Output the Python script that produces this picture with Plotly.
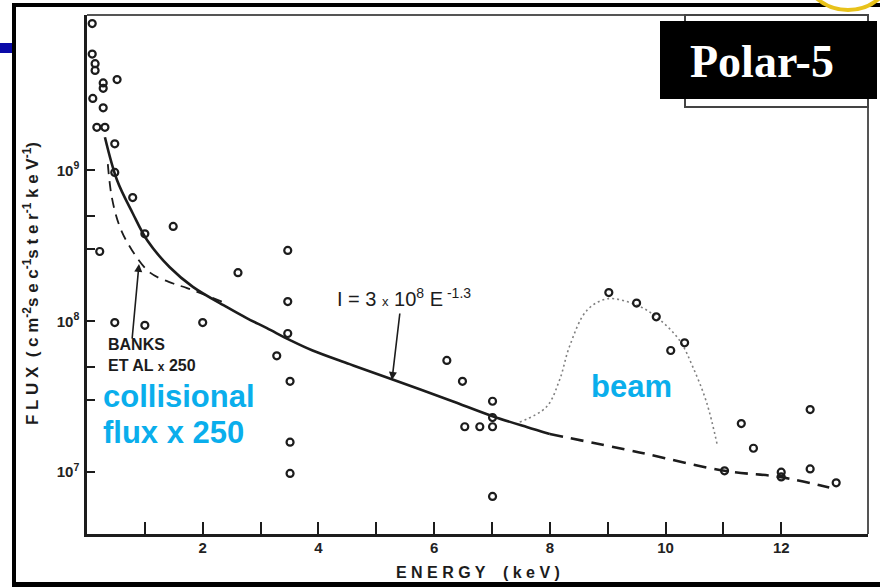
import plotly.graph_objects as go

# ---------------- data ----------------
energy_pts = [0.09, 0.09, 0.14, 0.14, 0.52, 0.28, 0.28, 0.10, 0.28, 0.17,
              0.31, 0.48, 0.48, 0.79, 1.00, 1.49, 0.22, 2.61, 3.47, 3.47,
              3.47, 3.28, 3.51, 3.51, 3.51, 0.48, 1.00, 2.00, 6.22, 6.49,
              6.53, 6.79, 7.01, 7.01, 7.01, 7.01, 9.02, 9.50, 9.84, 10.33,
              10.09, 11.31, 11.52, 11.02, 12.00, 12.00, 12.50, 12.50, 12.95]
flux_pts = [9.4e9, 5.9e9, 5.1e9, 4.6e9, 4.0e9, 3.8e9, 3.5e9, 3.0e9, 2.6e9, 1.93e9,
            1.93e9, 1.5e9, 9.7e8, 6.6e8, 3.8e8, 4.25e8, 2.9e8, 2.1e8, 2.95e8, 1.35e8,
            8.3e7, 5.9e7, 4.0e7, 1.58e7, 9.8e6, 9.8e7, 9.4e7, 9.8e7, 5.5e7, 4.0e7,
            2.0e7, 2.0e7, 2.95e7, 2.3e7, 2.0e7, 6.9e6, 1.55e8, 1.32e8, 1.07e8, 7.2e7,
            6.4e7, 2.1e7, 1.44e7, 1.02e7, 1.0e7, 9.3e6, 2.6e7, 1.05e7, 8.5e6]

fit_E = [0.31, 0.52, 0.79, 1.04, 1.43, 1.83, 2.42, 2.76, 3.11, 3.51, 3.90, 4.54,
         5.27, 6.27, 7.01, 7.60, 8.00]
fit_F = [1.66e9, 8.6e8, 5.2e8, 3.44e8, 2.28e8, 1.69e8, 1.24e8, 1.05e8, 9.0e7, 7.5e7,
         6.4e7, 5.2e7, 4.13e7, 3.0e7, 2.35e7, 1.99e7, 1.79e7]

ext_E = [8.00, 9.55, 11.02, 11.97, 12.83]
ext_F = [1.79e7, 1.35e7, 1.02e7, 9.3e6, 7.9e6]

banks_E = [0.36, 0.43, 0.57, 0.78, 1.09, 1.49, 1.73, 2.35]
banks_F = [1.1e9, 6.6e8, 4.2e8, 2.95e8, 2.1e8, 1.78e8, 1.66e8, 1.34e8]

beam_E = [7.48, 7.94, 8.17, 8.34, 8.64, 9.00, 9.50, 9.84, 10.24, 10.47, 10.71, 10.90]
beam_F = [2.15e7, 2.7e7, 4.1e7, 6.8e7, 1.18e8, 1.41e8, 1.28e8, 1.07e8, 7.5e7, 5.0e7, 2.9e7, 1.48e7]

x_ticks = [2, 4, 6, 8, 10, 12]
x_ticktext = ["2", "4", "6", "8", "10", "12"]
x_minor = [1, 3, 5, 7, 9, 11]
y_ticks = [1e7, 1e8, 1e9]
y_ticktext = ["10<sup>7</sup>", "10<sup>8</sup>", "10<sup>9</sup>"]
y_minor = [3e7, 5e7, 3e8, 5e8]

# ---------------- layout geometry ----------------
W, H = 880, 587
L, R, T, B = 87, 12, 15, 53
PW, PH = W - L - R, H - T - B


def PX(x):
    return (x - L) / PW


def PY(y):
    return (H - B - y) / PH


INK = "#1c1c1c"
CYAN = "#0AAEEC"
SANS = "Liberation Sans, Arial"

fig = go.Figure()

fig.add_trace(go.Scatter(x=banks_E, y=banks_F, mode="lines", line_shape="spline",
                         line=dict(color=INK, width=1.8, dash="10px,7px"), hoverinfo="skip"))
fig.add_trace(go.Scatter(x=beam_E, y=beam_F, mode="lines", line_shape="spline",
                         line=dict(color="#808080", width=1.6, dash="2px,3px"), hoverinfo="skip"))
fig.add_trace(go.Scatter(x=fit_E, y=fit_F, mode="lines", line_shape="spline",
                         line=dict(color=INK, width=2.6), hoverinfo="skip"))
fig.add_trace(go.Scatter(x=ext_E, y=ext_F, mode="lines", line_shape="spline",
                         line=dict(color=INK, width=2.6, dash="13px,8px"), hoverinfo="skip"))
fig.add_trace(go.Scatter(x=energy_pts, y=flux_pts, mode="markers",
                         marker=dict(symbol="circle-open", size=7, color=INK,
                                     line=dict(width=2.2, color=INK))))

tick_font = dict(family=SANS, size=15, color="#222", weight="bold")

fig.update_layout(
    width=W, height=H,
    margin=dict(l=L, r=R, t=T, b=B),
    paper_bgcolor="white", plot_bgcolor="white",
    showlegend=False,
    xaxis=dict(range=[0, 13.5], tickvals=x_ticks, ticktext=x_ticktext,
               ticks="inside", ticklen=12, tickwidth=2, tickcolor=INK,
               minor=dict(tickvals=x_minor, ticks="inside", ticklen=12, tickwidth=2,
                          tickcolor=INK, showgrid=False),
               showline=True, linewidth=2.5, linecolor=INK,
               showgrid=False, zeroline=False, tickfont=tick_font,
               ticklabelstandoff=-2),
    yaxis=dict(type="log", range=[6.59, 10.03], tickvals=y_ticks, ticktext=y_ticktext,
               ticks="inside", ticklen=8, tickwidth=2, tickcolor=INK,
               minor=dict(tickvals=y_minor, ticks="inside", ticklen=8, tickwidth=2,
                          tickcolor=INK, showgrid=False),
               showline=True, linewidth=2.5, linecolor=INK,
               showgrid=False, zeroline=False, tickfont=tick_font,
               ticklabelstandoff=2),
)

shapes = []
# top and right frame lines of the original plot
shapes.append(dict(type="line", xref="paper", yref="paper", x0=0, x1=1, y0=1, y1=1,
                   line=dict(color="#555", width=2)))
shapes.append(dict(type="line", xref="paper", yref="paper", x0=1, x1=1, y0=0, y1=1,
                   line=dict(color="#555", width=2)))
# original legend box (top right)
shapes.append(dict(type="rect", xref="paper", yref="paper", x0=PX(685), x1=PX(868),
                   y0=PY(107), y1=PY(15), line=dict(color="#444", width=2)))
# Polar-5 black label box
shapes.append(dict(type="rect", xref="paper", yref="paper", x0=PX(660), x1=PX(877),
                   y0=PY(99), y1=PY(21), line=dict(width=0), fillcolor="black"))
# outer slide frame
shapes.append(dict(type="line", xref="paper", yref="paper", x0=PX(14), x1=PX(14),
                   y0=PY(587), y1=PY(4), line=dict(color="black", width=4)))
shapes.append(dict(type="line", xref="paper", yref="paper", x0=PX(12), x1=PX(880),
                   y0=PY(5), y1=PY(5), line=dict(color="black", width=4)))
shapes.append(dict(type="line", xref="paper", yref="paper", x0=PX(12), x1=PX(880),
                   y0=PY(584.5), y1=PY(584.5), line=dict(color="black", width=5)))
# blue bar at left edge
shapes.append(dict(type="rect", xref="paper", yref="paper", x0=PX(0), x1=PX(12),
                   y0=PY(53), y1=PY(43), line=dict(width=0), fillcolor="#0a0aa8"))
# logo fragment at top right
shapes.append(dict(type="circle", xref="paper", yref="paper", x0=PX(800), x1=PX(896),
                   y0=PY(10), y1=PY(-86), line=dict(color="#e8c21a", width=4),
                   fillcolor="white"))
fig.update_layout(shapes=shapes)


def label(px, py, text, size, color=INK, family=SANS, xanchor="center", **kw):
    return dict(xref="paper", yref="paper", x=PX(px), y=PY(py), text=text,
                xanchor=xanchor, yanchor="middle", showarrow=False,
                font=dict(family=family, size=size, color=color), **kw)


def arrow(px, py, ax, ay):
    return dict(xref="paper", yref="paper", x=PX(px), y=PY(py), text="",
                showarrow=True, ax=ax, ay=ay, arrowhead=2, arrowsize=1,
                arrowwidth=1.6, arrowcolor=INK)


ann = [
    label(762, 61, "<b>Polar-5</b>", 46, color="white",
          family="Liberation Serif, Times New Roman"),
    label(335, 297, "I = 3 <span style='font-size:13px'>x</span> 10<sup>8</sup> E<sup> -1.3</sup>",
          20, xanchor="left"),
    arrow(392, 380, 8, -68),
    label(106, 355, "<b>BANKS<br>ET AL <span style='font-size:12px'>x</span> 250</b>",
          16, xanchor="left", align="left"),
    arrow(139, 264, -7, 76),
    label(101, 396, "<b>collisional</b>", 31, color=CYAN, xanchor="left"),
    label(101, 432, "<b>flux x 250</b>", 31, color=CYAN, xanchor="left"),
    label(631, 386, "<b>beam</b>", 31, color=CYAN),
    label(478, 572, "<b>E N E R G Y    ( k e V )</b>", 16),
    label(31, 284,
          "<b>F L U X  ( c m<sup>-2</sup>s e c<sup>-1</sup>s t e r<sup>-1</sup> k e V<sup>-1</sup>)</b>",
          17, textangle=-90),
]
fig.update_layout(annotations=ann)

fig.write_html("out.html", config={"displayModeBar": False},
               post_script="document.body.style.margin='0px';")
